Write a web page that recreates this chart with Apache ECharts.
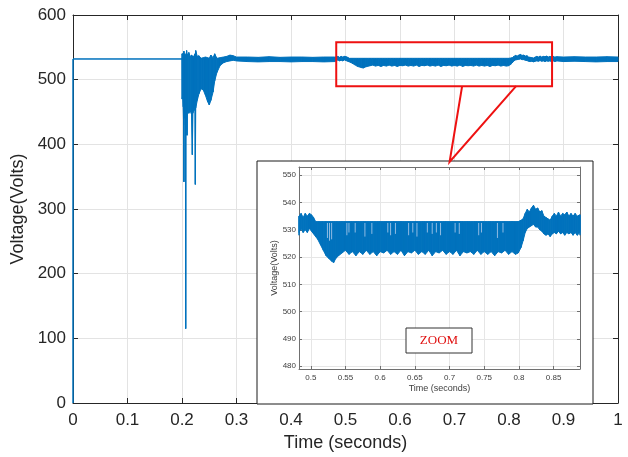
<!DOCTYPE html>
<html>
<head>
<meta charset="utf-8">
<script src="https://cdn.jsdelivr.net/npm/echarts@6.0.0/dist/echarts.min.js"></script>
<style>
html, body { margin: 0; padding: 0; background: #fff; }
#main { width: 628px; height: 457px; }
</style>
</head>
<body>
<div id="main"></div>
<script>
// signal envelope: time, lower edge, upper edge of the ripple band
var sigT = [0, 0, 0.2,
    0.2003, 0.2012, 0.2022, 0.2030, 0.2035, 0.2040, 0.2055, 0.2064, 0.2068, 0.2072, 0.2085, 0.2092, 0.2100,
    0.2125, 0.2150, 0.2175, 0.2189, 0.2200, 0.2220, 0.2238, 0.2244, 0.2252, 0.2280, 0.2310, 0.2350, 0.2390,
    0.2430, 0.2470, 0.2500, 0.2530, 0.2570, 0.2600, 0.2640, 0.2700, 0.2760, 0.2820, 0.2880, 0.2940, 0.3000,
    0.32, 0.34, 0.36, 0.38, 0.40, 0.42, 0.44, 0.46, 0.48,
    0.483, 0.486, 0.489, 0.492, 0.495, 0.498, 0.501, 0.504, 0.507, 0.510, 0.514, 0.518, 0.522, 0.526, 0.530,
    0.533, 0.536, 0.540, 0.545, 0.550, 0.555, 0.560, 0.565, 0.570, 0.575, 0.580, 0.585, 0.590, 0.595, 0.600,
    0.605, 0.610, 0.615, 0.620, 0.625, 0.630, 0.635, 0.640, 0.645, 0.650, 0.655, 0.660, 0.665, 0.670, 0.675,
    0.680, 0.685, 0.690, 0.695, 0.700, 0.705, 0.710, 0.715, 0.720, 0.725, 0.730, 0.735, 0.740, 0.745, 0.750,
    0.755, 0.760, 0.765, 0.770, 0.775, 0.780, 0.785, 0.790, 0.795, 0.799, 0.803, 0.806, 0.809, 0.812, 0.815,
    0.818, 0.821, 0.824, 0.827, 0.830, 0.833, 0.836, 0.839, 0.842, 0.845, 0.848, 0.851, 0.854, 0.857, 0.860,
    0.863, 0.866, 0.869, 0.872, 0.875, 0.878, 0.881, 0.884, 0.888,
    0.90, 0.92, 0.94, 0.96, 0.98, 1.00];
var sigLo = [0, 532, 532,
    470, 476, 458, 430, 342, 440, 452, 448, 115, 446, 452, 414, 455,
    448, 452, 446, 384, 448, 455, 452, 338, 456, 468, 478, 486, 484,
    476, 466, 461, 468, 481, 498, 511, 522, 526, 528, 529, 530, 529,
    528, 527.5, 528, 528, 527.5, 528, 528, 527.5, 528,
    529, 530.5, 529, 530, 529, 530.5, 529.5, 528.5, 527.5, 526.5, 524.5, 522.5, 520.5, 519.5, 518.5,
    518, 519.5, 520.5, 521.5, 522.5, 521, 522, 520.5, 522, 521, 522.5, 521, 522, 520.5, 522,
    521.5, 522.5, 521, 522, 521, 522.5, 520.5, 522, 521.5, 522.5, 521, 522, 521, 522.5, 520.5,
    522, 521.5, 522.5, 521, 522, 521, 522.5, 520.5, 522, 521.5, 522, 521, 522.5, 521, 522,
    521, 522, 520.5, 522, 521.5, 522.5, 521, 522, 521, 521.5, 523.5, 526, 529, 530.5, 531,
    531.5, 532, 531, 531, 530, 529.5, 528.5, 528, 528.5, 527.5, 528.5, 529, 528.5, 529.5, 528.5,
    529, 528, 529, 528.5, 529, 528, 529, 528, 529,
    528, 528.5, 528, 527.5, 528, 528];
var sigHi = [0, 532, 532,
    540, 536, 541, 536, 544, 537, 540, 536, 538, 535, 545, 537, 539,
    542, 536, 538, 535, 537, 534, 540, 536, 545, 536, 537, 533, 534,
    535, 534, 533, 538, 534, 540, 533, 534, 535, 536, 538, 537, 535,
    535, 534.5, 535.5, 534.5, 535, 535, 534.5, 535, 535,
    535, 536, 534.5, 536, 535, 536, 535.5, 534.5, 533, 533, 533, 533, 533, 533, 533,
    533, 533, 533, 533, 533, 533, 533, 533, 533, 533, 533, 533, 533, 533, 533,
    533, 533, 533, 533, 533, 533, 533, 533, 533, 533, 533, 533, 533, 533, 533,
    533, 533, 533, 533, 533, 533, 533, 533, 533, 533, 533, 533, 533, 533, 533,
    533, 533, 533, 533, 533, 533, 533, 533, 533, 533, 533.5, 534, 536, 537.5, 536.5,
    538, 539, 537.5, 538, 536.5, 537, 535, 534.5, 534, 533.5, 535, 536, 535, 536.5, 535,
    536, 535.5, 536.5, 535, 536, 535, 536, 535, 535.5,
    535, 535.5, 535, 535, 535.5, 535];

// light notches seen inside the band of the zoomed view
var gapT = [0.524, 0.527, 0.530, 0.552, 0.555, 0.564, 0.578, 0.588, 0.611, 0.615, 0.622, 0.641,
    0.647, 0.653, 0.668, 0.675, 0.681, 0.687, 0.708, 0.714, 0.742, 0.746, 0.769, 0.777];
var gapLo = [527, 526, 526.5, 528, 529, 529, 527.5, 528.5, 529, 528, 528.5, 528,
    529, 527.5, 529, 528.5, 529, 528, 529, 528.5, 528, 529, 527, 529];
var gapTop = 532.5;

// zoomed window marked on the main plot
var zoomX = [0.483, 0.879];
var zoomY = [490, 558];

var FONT = 'Liberation Sans, Arial, Helvetica, sans-serif';
var BLUE = '#0072BD';

// one item per step of the envelope: [t0, lo0, hi0, t1, lo1, hi1]
var segData = [];
for (var i = 0; i < sigT.length - 1; i++) {
    segData.push([sigT[i], sigLo[i], sigHi[i], sigT[i + 1], sigLo[i + 1], sigHi[i + 1]]);
}

function boxAxis(pos, gridIndex, extra, color, z) {
    var ax = {
        type: 'value', gridIndex: gridIndex, position: pos, z: z,
        axisLine: { show: true, onZero: false, lineStyle: { color: color, width: 1 } },
        axisTick: { show: true, inside: true, length: gridIndex === 0 ? 5 : 3, lineStyle: { color: color } },
        axisLabel: { show: false },
        splitLine: { show: false }
    };
    for (var k in extra) { ax[k] = extra[k]; }
    return ax;
}

function bandSeries(axisIndex, z) {
    return {
        type: 'custom', xAxisIndex: axisIndex, yAxisIndex: axisIndex, z: z, silent: true,
        data: segData,
        encode: { x: [0, 3], y: [1, 2, 4, 5] },
        renderItem: function (params, api) {
            var cs = params.coordSys;
            var p = [
                api.coord([api.value(0), api.value(2)]),
                api.coord([api.value(3), api.value(5)]),
                api.coord([api.value(3), api.value(4)]),
                api.coord([api.value(0), api.value(1)])
            ];
            if (p[1][0] < cs.x - 0.5 || p[0][0] > cs.x + cs.width + 0.5) {
                return null;
            }
            var pts = echarts.graphic.clipPointsByRect(p, cs);
            return {
                type: 'polygon',
                shape: { points: pts },
                style: { fill: BLUE, stroke: BLUE, lineWidth: 1 }
            };
        }
    };
}

var chart = echarts.init(document.getElementById('main'));

var option = {
    animation: false,
    backgroundColor: '#fff',
    grid: [
        { left: 73, right: 10, top: 15, bottom: 48 },
        { left: 299, right: 48, top: 167, bottom: 88, z: 3 }
    ],
    xAxis: [
        boxAxis('bottom', 0, {
            min: 0, max: 1, interval: 0.1,
            axisLabel: { show: true, color: '#262626', fontSize: 17, margin: 9, fontFamily: FONT },
            splitLine: { show: true, lineStyle: { color: '#e3e3e3', width: 1 } },
            name: 'Time (seconds)', nameLocation: 'middle', nameGap: 31,
            nameTextStyle: { color: '#262626', fontSize: 18, fontFamily: FONT }
        }, '#262626', 0),
        boxAxis('top', 0, { min: 0, max: 1, interval: 0.1 }, '#262626', 0),
        boxAxis('bottom', 1, {
            min: 0.483, max: 0.888, splitNumber: 8,
            axisLabel: { show: true, color: '#404040', fontSize: 8, margin: 5, fontFamily: FONT,
                showMinLabel: false, showMaxLabel: false },
            splitLine: { show: true, lineStyle: { color: '#e6e6e6', width: 1 } },
            name: 'Time (seconds)', nameLocation: 'middle', nameGap: 15,
            nameTextStyle: { color: '#404040', fontSize: 9, fontFamily: FONT }
        }, '#707070', 3),
        boxAxis('top', 1, { min: 0.483, max: 0.888, splitNumber: 8 }, '#707070', 3)
    ],
    yAxis: [
        boxAxis('left', 0, {
            min: 0, max: 600, interval: 100,
            axisLabel: { show: true, color: '#262626', fontSize: 17, margin: 7, fontFamily: FONT },
            splitLine: { show: true, lineStyle: { color: '#e3e3e3', width: 1 } },
            name: 'Voltage(Volts)', nameLocation: 'middle', nameGap: 40,
            nameTextStyle: { color: '#262626', fontSize: 18, fontFamily: FONT }
        }, '#262626', 0),
        boxAxis('right', 0, { min: 0, max: 600, interval: 100 }, '#262626', 0),
        boxAxis('left', 1, {
            min: 479, max: 553, splitNumber: 7,
            axisLabel: { show: true, color: '#404040', fontSize: 8, margin: 3, fontFamily: FONT,
                showMinLabel: false, showMaxLabel: false },
            splitLine: { show: true, lineStyle: { color: '#e6e6e6', width: 1 } },
            name: 'Voltage(Volts)', nameLocation: 'middle', nameGap: 20,
            nameTextStyle: { color: '#404040', fontSize: 9, fontFamily: FONT }
        }, '#707070', 3),
        boxAxis('right', 1, { min: 479, max: 553, splitNumber: 7 }, '#707070', 3)
    ],
    series: [
        bandSeries(0, 2),
        bandSeries(2, 4),
        {
            type: 'custom', xAxisIndex: 2, yAxisIndex: 2, z: 5, silent: true,
            data: gapT.map(function (t, i) { return [t, gapLo[i]]; }),
            renderItem: function (params, api) {
                var a = api.coord([api.value(0), gapTop]);
                var b = api.coord([api.value(0), api.value(1)]);
                return {
                    type: 'line',
                    shape: { x1: a[0], y1: a[1], x2: b[0], y2: b[1] },
                    style: { stroke: '#8fbbe3', lineWidth: 1 }
                };
            }
        }
    ]
};
chart.setOption(option);

// callout: red box on the main plot, leader lines to the inset, inset frame, ZOOM tag
var tl = chart.convertToPixel({ gridIndex: 0 }, [zoomX[0], zoomY[1]]);
var br = chart.convertToPixel({ gridIndex: 0 }, [zoomX[1], zoomY[0]]);
var l1 = chart.convertToPixel({ gridIndex: 0 }, [0.714, zoomY[0]]);
var l2 = chart.convertToPixel({ gridIndex: 0 }, [0.813, zoomY[0]]);
var apex = [chart.convertToPixel({ gridIndex: 1 }, [0.7, 553])[0], 162];

chart.setOption({
    graphic: [
        {
            type: 'rect', z: 1, silent: true,
            shape: { x: 257, y: 161, width: 336, height: 243 },
            style: { fill: '#fff', stroke: '#1a1a1a', lineWidth: 1 }
        },
        {
            type: 'rect', z: 10, silent: true,
            shape: { x: tl[0], y: tl[1], width: br[0] - tl[0], height: br[1] - tl[1] },
            style: { fill: 'none', stroke: '#ee1111', lineWidth: 2 }
        },
        {
            type: 'polyline', z: 10, silent: true,
            shape: { points: [l1, apex, l2] },
            style: { fill: 'none', stroke: '#ee1111', lineWidth: 2 }
        },
        {
            type: 'rect', z: 10, silent: true,
            shape: { x: 406, y: 328, width: 66, height: 25 },
            style: { fill: '#fff', stroke: '#333', lineWidth: 1 }
        },
        {
            type: 'text', z: 11, silent: true,
            x: 439, y: 340.5,
            style: {
                text: 'ZOOM', fill: '#e01010', font: '13px "Liberation Serif", "Times New Roman", serif',
                align: 'center', verticalAlign: 'middle'
            }
        }
    ]
});
</script>
</body>
</html>
